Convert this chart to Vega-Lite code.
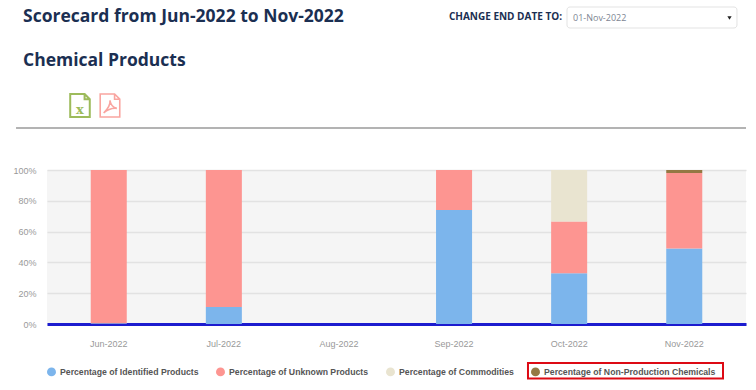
{"$schema":"https://vega.github.io/schema/vega-lite/v6.json","width":699,"height":154,"autosize":{"type":"none"},"padding":{"left":47,"top":170,"right":10,"bottom":66},"background":"#ffffff","config":{"view":{"fill":"#f5f5f5","stroke":null}},"title":{"text":"Scorecard from Jun-2022 to Nov-2022","subtitle":"Chemical Products","anchor":"start","frame":"group","dx":-24,"offset":-62.5,"font":"Open Sans","fontSize":17.5,"fontWeight":"bold","color":"#1b2f52","subtitleFont":"Open Sans","subtitleFontSize":17.5,"subtitleFontWeight":"bold","subtitleColor":"#1b2f52","subtitlePadding":26},"resolve":{"scale":{"x":"independent","y":"independent"}},"layer":[{"data":{"values":[{"month":"Jun-2022","series":"Percentage of Identified Products","rank":1,"share":0.005},{"month":"Jun-2022","series":"Percentage of Unknown Products","rank":2,"share":0.995},{"month":"Jul-2022","series":"Percentage of Identified Products","rank":1,"share":0.11},{"month":"Jul-2022","series":"Percentage of Unknown Products","rank":2,"share":0.89},{"month":"Aug-2022","series":"Percentage of Identified Products","rank":1,"share":0},{"month":"Sep-2022","series":"Percentage of Identified Products","rank":1,"share":0.74},{"month":"Sep-2022","series":"Percentage of Unknown Products","rank":2,"share":0.26},{"month":"Oct-2022","series":"Percentage of Identified Products","rank":1,"share":0.33},{"month":"Oct-2022","series":"Percentage of Unknown Products","rank":2,"share":0.335},{"month":"Oct-2022","series":"Percentage of Commodities","rank":3,"share":0.335},{"month":"Nov-2022","series":"Percentage of Identified Products","rank":1,"share":0.49},{"month":"Nov-2022","series":"Percentage of Unknown Products","rank":2,"share":0.49},{"month":"Nov-2022","series":"Percentage of Non-Production Chemicals","rank":4,"share":0.02}]},"mark":{"type":"bar"},"encoding":{"x":{"field":"month","type":"nominal","sort":null,"scale":{"domain":["Jun-2022","Jul-2022","Aug-2022","Sep-2022","Oct-2022","Nov-2022"],"paddingInner":0.687,"paddingOuter":0.38},"axis":{"title":null,"labelAngle":0,"labelFont":"Liberation Sans","labelFontSize":9,"labelColor":"#999999","labelPadding":15,"ticks":false,"domain":true,"domainColor":"#1c1ccf","domainWidth":3}},"y":{"field":"share","type":"quantitative","stack":"zero","scale":{"domain":[0,1],"nice":false},"axis":{"title":null,"format":".0%","values":[0,0.2,0.4,0.6,0.8,1],"labelOverlap":false,"labelFont":"Liberation Sans","labelFontSize":9,"labelColor":"#999999","labelPadding":11,"ticks":false,"domain":false,"grid":true,"gridColor":"#e2e2e2","gridWidth":1.5}},"order":{"field":"rank","type":"ordinal"},"color":{"field":"series","type":"nominal","scale":{"domain":["Percentage of Identified Products","Percentage of Unknown Products","Percentage of Commodities","Percentage of Non-Production Chemicals"],"range":["#7cb5ec","#fd9591","#e9e4d0","#947843"]},"legend":{"title":null,"orient":"none","legendX":0,"legendY":197,"direction":"horizontal","columns":4,"columnPadding":17,"symbolType":"circle","symbolSize":80,"symbolStrokeWidth":0,"labelFont":"Liberation Sans","labelFontSize":8.7,"labelFontWeight":"bold","labelColor":"#555555","labelOffset":4,"labelLimit":300}}}},{"data":{"values":[{"chrome":"page"}]},"layer":[{"mark":{"type":"rule","stroke":"#9a9a9a","strokeWidth":1.5},"encoding":{"x":{"datum":-0.0443,"type":"quantitative","scale":{"domain":[0,1],"nice":false,"zero":false},"axis":null},"x2":{"datum":1},"y":{"datum":1.2727,"type":"quantitative","scale":{"domain":[0,1],"nice":false,"zero":false},"axis":null}}},{"mark":{"type":"rect","fill":"#ffffff","stroke":"#e3e3e3","strokeWidth":1,"cornerRadius":3},"encoding":{"x":{"datum":0.7439,"type":"quantitative","axis":null},"x2":{"datum":0.9871},"y":{"datum":2.0584,"type":"quantitative","axis":null},"y2":{"datum":1.9221}}},{"mark":{"type":"text","text":"01-Nov-2022","align":"left","baseline":"middle","font":"Open Sans","fontSize":9,"color":"#7d8592"},"encoding":{"x":{"datum":0.7525,"type":"quantitative","axis":null},"y":{"datum":1.9870,"type":"quantitative","axis":null}}},{"mark":{"type":"text","text":"CHANGE END DATE TO:","align":"right","baseline":"middle","font":"Open Sans","fontSize":10,"fontWeight":"bold","color":"#1b2f52"},"encoding":{"x":{"datum":0.7368,"type":"quantitative","axis":null},"y":{"datum":1.9935,"type":"quantitative","axis":null}}},{"mark":{"type":"point","shape":"triangle-down","filled":true,"color":"#222222","size":18,"opacity":1},"encoding":{"x":{"datum":0.9764,"type":"quantitative","axis":null},"y":{"datum":1.9870,"type":"quantitative","axis":null}}},{"mark":{"type":"point","shape":"M-.85,-1 L.4,-1 L.85,-.55 L.85,1 L-.85,1 Z M.4,-1 L.4,-.55 L.85,-.55","filled":false,"stroke":"#9dbb5b","strokeWidth":2,"size":529,"opacity":1},"encoding":{"x":{"datum":0.0472,"type":"quantitative","axis":null},"y":{"datum":1.4188,"type":"quantitative","axis":null}}},{"mark":{"type":"text","text":"x","align":"center","baseline":"middle","font":"DejaVu Serif","fontSize":13,"fontWeight":"bold","color":"#9dbb5b"},"encoding":{"x":{"datum":0.0472,"type":"quantitative","axis":null},"y":{"datum":1.3900,"type":"quantitative","axis":null}}},{"mark":{"type":"point","shape":"M-.85,-1 L.4,-1 L.85,-.55 L.85,1 L-.85,1 Z M.4,-1 L.4,-.55 L.85,-.55 M-.55,.65 C-.2,.3 .05,-.1 .0,-.45 C.05,-.1 .3,.2 .6,.25 C.2,.2 -.2,.35 -.55,.65","filled":false,"stroke":"#f9a5a0","strokeWidth":1.6,"size":529,"opacity":1},"encoding":{"x":{"datum":0.0901,"type":"quantitative","axis":null},"y":{"datum":1.4188,"type":"quantitative","axis":null}}},{"mark":{"type":"rect","fill":null,"stroke":"#dd0a14","strokeWidth":2},"encoding":{"x":{"datum":0.6881,"type":"quantitative","axis":null},"x2":{"datum":0.9671},"y":{"datum":-0.2532,"type":"quantitative","axis":null},"y2":{"datum":-0.3539}}}]}]}
